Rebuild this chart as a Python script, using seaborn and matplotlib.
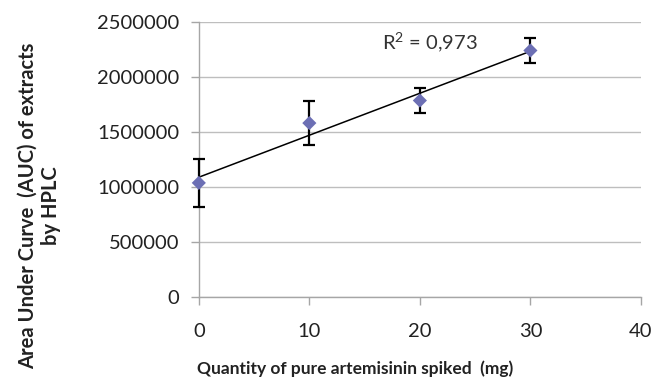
import numpy as np
import pandas as pd
import matplotlib
matplotlib.use("Agg")
import matplotlib.pyplot as plt
import matplotlib.ticker as mticker
import seaborn as sns

# data
quantity = [0, 10, 20, 30]
auc = [1036000, 1580000, 1785000, 2240000]
auc_err = [215000, 200000, 118000, 112000]
r2_label = "R$^2$ = 0,973"

df = pd.DataFrame({"Quantity": quantity, "AUC": auc, "err": auc_err})

sns.set_style("white")
plt.rcParams["font.family"] = ["Lato", "DejaVu Sans"]
plt.rcParams["mathtext.default"] = "regular"

fig = plt.figure(figsize=(6.54, 3.84), dpi=100)
ax = fig.add_axes([0.304, 0.227, 0.676, 0.716])

ax.errorbar(df["Quantity"], df["AUC"], yerr=df["err"], fmt="none",
            ecolor="black", elinewidth=1.6, capsize=4, capthick=1.6,
            zorder=3, clip_on=False)
sns.regplot(x="Quantity", y="AUC", data=df, scatter=False, ci=None,
            truncate=True, color="black", line_kws={"linewidth": 1.1}, ax=ax)
sns.scatterplot(x="Quantity", y="AUC", data=df, marker="D", s=52,
                color="#6C6FB4", edgecolor="none", zorder=4, clip_on=False, ax=ax)

ax.text(16.6, 2318000, r2_label, fontsize=14.5, va="center", ha="left", color="#333333")

ax.set_xlim(0, 40)
ax.set_ylim(0, 2500000)
ax.set_xticks([0, 10, 20, 30, 40])
ax.set_yticks(np.arange(0, 2500001, 500000))
ax.yaxis.set_major_formatter(mticker.FuncFormatter(lambda v, p: f"{int(v)}"))

ax.grid(axis="y", color="#BEBEBE", linewidth=1)
ax.set_axisbelow(True)
for s in ["top", "right"]:
    ax.spines[s].set_visible(False)
for s in ["left", "bottom"]:
    ax.spines[s].set_color("#A6A6A6")
    ax.spines[s].set_linewidth(1)
ax.tick_params(axis="both", which="major", length=6, width=1, color="#A6A6A6",
               labelsize=14.5, labelcolor="#222222", direction="out")
ax.tick_params(axis="x", pad=13)
ax.tick_params(axis="y", pad=8)
ax.xaxis.set_ticks_position("bottom")
ax.yaxis.set_ticks_position("left")

ax.set_xlabel("Quantity of pure artemisinin spiked  (mg)", fontsize=12.5,
              fontweight="bold", color="#222222")
ax.set_ylabel("Area Under Curve  (AUC) of extracts\nby HPLC", fontsize=14.5,
              fontweight="bold", color="#222222", linespacing=1.2)
# the original labels sit off-centre, as Excel placed them
ax.xaxis.set_label_coords(0.353, -0.232)
ax.yaxis.set_label_coords(-0.312, 0.33)

fig.savefig("out.png", dpi=100)
